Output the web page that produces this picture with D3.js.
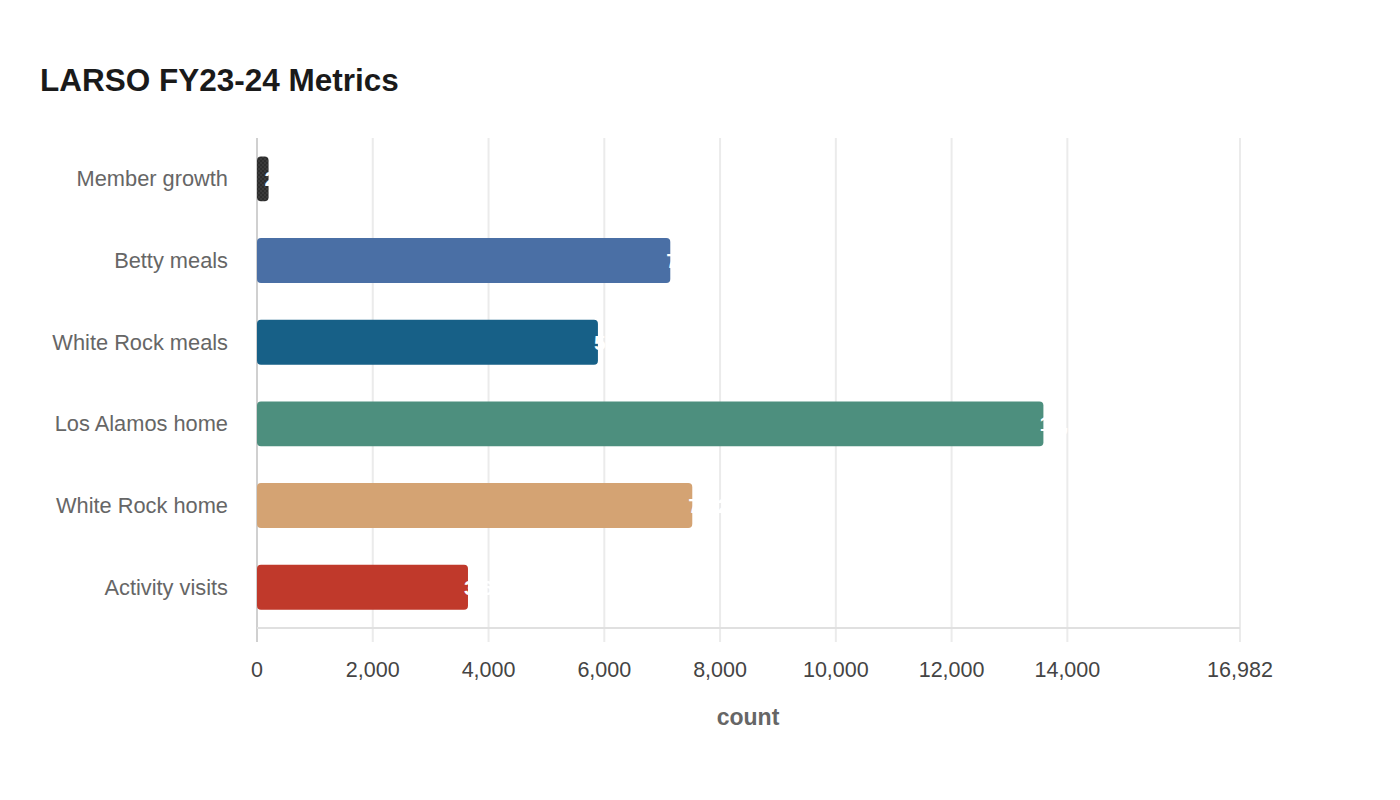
<!DOCTYPE html>
<html><head><meta charset="utf-8">
<script src="https://cdn.jsdelivr.net/npm/d3@7"></script>
<style>body{margin:0;background:#fff;font-family:"Liberation Sans",Arial,sans-serif;}</style>
</head><body><svg id="c" width="1400" height="800"></svg>
<script>
const categories = ["Member growth","Betty meals","White Rock meals","Los Alamos home","White Rock home","Activity visits"];
const values = [200, 7140, 5890, 13586, 7520, 3645];
const colors = ["#333333","#4a6fa5","#176087","#4d8f7e","#d4a373","#c0392b"];
const tickValues = [0,2000,4000,6000,8000,10000,12000,14000];

const svg = d3.select("#c");
const m = {l:257, r:1240, t:138, b:628};
const maxV = d3.max(values)*1.25;
const x = d3.scaleLinear().domain([0,maxV]).range([m.l,m.r]);
const y = d3.scaleBand().domain(categories).range([m.t,m.b]).paddingInner(0.45).paddingOuter(0.225);

const defs = svg.append("defs");
const pat = defs.append("pattern").attr("id","dots").attr("width",4).attr("height",4).attr("patternUnits","userSpaceOnUse");
pat.append("rect").attr("width",4).attr("height",4).attr("fill","#3a3a3a");
pat.append("circle").attr("cx",1).attr("cy",1).attr("r",0.8).attr("fill","#1a1a1a");
pat.append("circle").attr("cx",3).attr("cy",3).attr("r",0.8).attr("fill","#1a1a1a");

svg.append("text").attr("x",40).attr("y",91).text("LARSO FY23-24 Metrics")
  .attr("font-size",31.5).attr("font-weight","bold").attr("fill","#1a1a1a");

const ticks = tickValues.concat([maxV]);
svg.append("g").selectAll("line").data(ticks).join("line")
  .attr("x1",d=>x(d)).attr("x2",d=>x(d)).attr("y1",m.t).attr("y2",m.b+14)
  .attr("stroke",d=>d===0?"#d0d0d0":"#ebebeb").attr("stroke-width",2);
svg.append("line").attr("x1",m.l).attr("x2",m.r).attr("y1",m.b).attr("y2",m.b)
  .attr("stroke","#e0e0e0").attr("stroke-width",2);

svg.append("g").selectAll("text").data(ticks).join("text")
  .attr("x",d=>x(d)).attr("y",677).attr("text-anchor","middle")
  .attr("font-size",21.5).attr("fill","#444")
  .text(d=>d3.format(",")(Math.floor(d)));

svg.append("text").attr("x",748).attr("y",725).attr("text-anchor","middle")
  .attr("font-size",23).attr("font-weight","bold").attr("fill","#666").text("count");

svg.append("g").selectAll("text").data(categories).join("text")
  .attr("x",228).attr("y",d=>y(d)+y.bandwidth()/2).attr("dy","0.35em")
  .attr("text-anchor","end").attr("font-size",21.8).attr("fill","#666").text(d=>d);

svg.append("g").selectAll("rect").data(values).join("rect")
  .attr("x",x(0)).attr("y",(d,i)=>y(categories[i]))
  .attr("width",d=>x(d)-x(0)).attr("height",y.bandwidth())
  .attr("rx",4).attr("fill",(d,i)=>i===0?"url(#dots)":colors[i]);

svg.append("g").selectAll("text").data(values).join("text")
  .attr("x",d=>x(d)-4).attr("y",(d,i)=>y(categories[i])+y.bandwidth()/2).attr("dy","0.35em")
  .attr("font-size",21).attr("font-weight","bold").attr("fill","#fff")
  .text(d=>d3.format(",")(d));
</script></body></html>
